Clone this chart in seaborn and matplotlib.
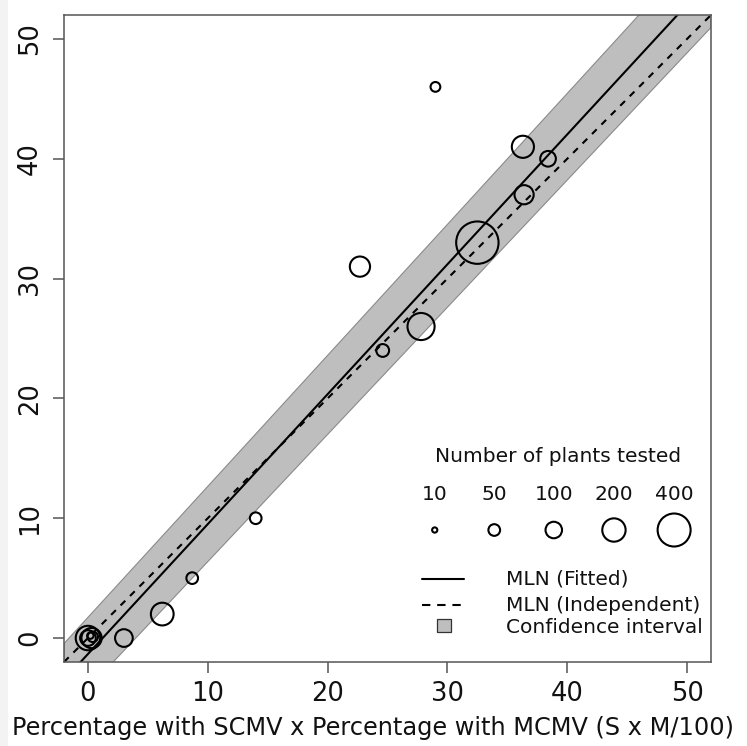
import numpy as np
import pandas as pd
import matplotlib
matplotlib.use("Agg")
import matplotlib.pyplot as plt
from matplotlib.patches import Rectangle
from matplotlib.lines import Line2D
import seaborn as sns

# ---- data ----
x_pct = [0.0, 0.3, 0.0, 0.4, 0.2, 3.0, 6.2, 8.7, 14.0, 22.7, 24.6, 27.8, 29.0, 32.5, 36.3, 36.4, 38.4]
y_pct = [0.0, 0.0, 0.0, 0.1, 0.2, 0.0, 2.0, 5.0, 10.0, 31.0, 24.0, 26.0, 46.0, 33.0, 41.0, 37.0, 40.0]
n_plants = [220, 150, 90, 40, 15, 115, 190, 50, 50, 150, 60, 270, 35, 660, 180, 135, 90]

line_x = [-2, 52]
fitted_y = [-3.50, 55.04]
independent_y = [-2, 52]
ci_lower = [-6.36, 50.96]
ci_upper = [-0.46, 58.57]

legend_sizes = [10, 50, 100, 200, 400]
ticks = [0, 10, 20, 30, 40, 50]

# ---- styling ----
sns.set_theme(style="white")
plt.rcParams['font.family'] = ['DejaVu Sans']

fig = plt.figure(figsize=(7.47, 7.46), dpi=100)
fig.patch.set_facecolor("white")
fig.patches.append(Rectangle((0, 0), 8 / 747, 1, transform=fig.transFigure,
                             facecolor="#f3f3f3", edgecolor="none", zorder=0))
ax = fig.add_axes([64 / 747, (746 - 662) / 746, 647 / 747, 647 / 746])

K = 1.411  # marker area per plant (points^2)
LW = 1.5
DASH = [3.2, 3.2]

# confidence band
ax.fill_between(line_x, ci_lower, ci_upper, facecolor="#bebebe",
                edgecolor="#8a8a8a", linewidth=0.8, zorder=1)

lines = pd.DataFrame({"x": line_x * 2,
                      "y": fitted_y + independent_y,
                      "model": ["Fitted"] * 2 + ["Independent"] * 2})
sns.lineplot(data=lines[lines.model == "Fitted"], x="x", y="y", color="black",
             linewidth=LW, ax=ax, zorder=2, legend=False)
sns.lineplot(data=lines[lines.model == "Independent"], x="x", y="y", color="black",
             linewidth=LW, ax=ax, zorder=2, legend=False)
ax.lines[-1].set_dashes(DASH)

pts = pd.DataFrame({"x": x_pct, "y": y_pct, "n": n_plants})
sns.scatterplot(data=pts, x="x", y="y", size="n", sizes=(0, K * 1000),
                size_norm=(0, 1000), facecolor="none", edgecolor="black",
                linewidth=1.5, ax=ax, legend=False, zorder=3)

ax.set_xlim(-2, 52)
ax.set_ylim(-2, 52)
ax.set_xticks(ticks)
ax.set_yticks(ticks)
ax.set_xticklabels([str(t) for t in ticks], fontsize=18.5, color="#111111")
ax.set_yticklabels([str(t) for t in ticks], fontsize=18.5, rotation=90,
                   va="center", color="#111111")
ax.tick_params(axis="both", length=8, width=1.1, color="#555555", direction="out",
               left=True, bottom=True)
ax.tick_params(axis="x", pad=6)
ax.tick_params(axis="y", pad=7)
for s in ax.spines.values():
    s.set_color("#555555")
    s.set_linewidth(1.1)
ax.set_xlabel("Percentage with SCMV x Percentage with MCMV (S x M/100)",
              fontsize=17.3, color="#111111", va="center")
ax.xaxis.set_label_coords(0.477, -0.102)
ax.set_ylabel("")

# ---- legend (drawn in axes fraction) ----
ax.text(0.7635, 0.318, "Number of plants tested", transform=ax.transAxes,
        ha="center", va="center", fontsize=14.5, color="#111111")
leg_x = [0.573, 0.665, 0.757, 0.850, 0.943]
for lx, n in zip(leg_x, legend_sizes):
    ax.text(lx, 0.259, str(n), transform=ax.transAxes, ha="center", va="center",
            fontsize=14.5, color="#111111")
ax.scatter(leg_x, [0.204] * len(leg_x), s=[K * n for n in legend_sizes],
           facecolor="none", edgecolor="black", linewidth=1.5,
           transform=ax.transAxes, clip_on=False, zorder=4)

ax.add_line(Line2D([0.553, 0.618], [0.128, 0.128], color="black", linewidth=LW,
                   transform=ax.transAxes))
ax.add_line(Line2D([0.553, 0.618], [0.0875, 0.0875], color="black", linewidth=LW,
                   dashes=[4, 3.3], transform=ax.transAxes))
ax.add_patch(Rectangle((0.577, 0.046), 0.021, 0.021, transform=ax.transAxes,
                       facecolor="#bebebe", edgecolor="#333333", linewidth=0.9))
for yy, t in zip([0.128, 0.0875, 0.054],
                 ["MLN (Fitted)", "MLN (Independent)", "Confidence interval"]):
    ax.text(0.683, yy, t, transform=ax.transAxes, ha="left", va="center",
            fontsize=14.5, color="#111111")

fig.savefig("out.png", dpi=100)
